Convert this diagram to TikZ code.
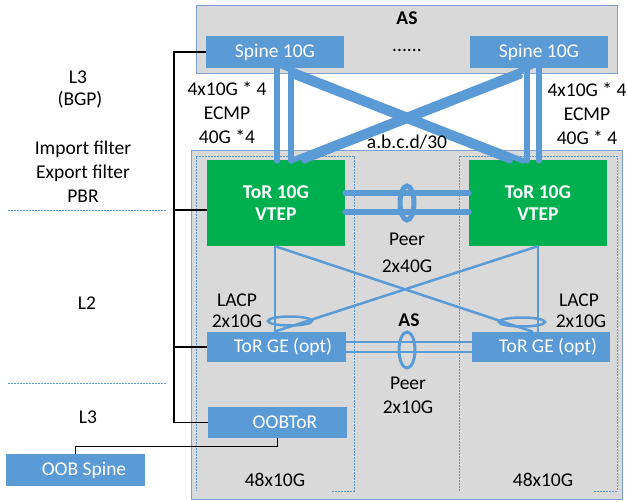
\documentclass[tikz,border=0pt]{standalone}
\usepackage{fontspec}
\setmainfont{Carlito}
\usetikzlibrary{calc}
\definecolor{lblue}{HTML}{5B9BD5}
\definecolor{tgreen}{HTML}{00B050}
\definecolor{gfill}{HTML}{D9D9D9}
\definecolor{gedge}{HTML}{7F9FCF}
\begin{document}
\begin{tikzpicture}[x=1pt,y=-1pt, font=\fontsize{19.5}{24}\selectfont,
 bluebox/.style={fill=lblue, text=white, inner sep=0pt, minimum width=138pt, minimum height=32pt},
 greenbox/.style={fill=tgreen, text=white, font=\fontsize{19.5}{22}\selectfont\bfseries, align=center, inner sep=0pt, minimum width=138pt, minimum height=86pt},
 grayarea/.style={fill=gfill, draw=gedge, line width=0.8pt},
 zone/.style={draw=lblue, dash pattern=on 2pt off 1pt, line width=0.8pt},
 divider/.style={draw=lblue, dash pattern=on 2pt off 1pt, line width=0.8pt},
 bracket/.style={draw=black, line width=1.3pt},
 fat/.style={draw=lblue, line width=5.5pt, line cap=round},
 thinlink/.style={draw=lblue, line width=2.5pt},
 lbl/.style={inner sep=0pt, align=center}]
\useasboundingbox (0,0) rectangle (627,502);
\fill[white] (0,0) rectangle (627,502);

% areas
\draw[grayarea] (196,5) rectangle (617,73);
\draw[grayarea] (191,150) rectangle (622,499);
\draw[zone] (332,491) -- (354,491) -- (354,156) -- (196,156) -- (196,491);
\draw[zone] (594,491) -- (617,491) -- (617,156) -- (459,156) -- (459,491);

% dividers
\draw[divider] (8,210) -- (167,210);
\draw[divider] (8,383) -- (167,383);

% nodes
\node[bluebox] (sp1) at (275,52) {Spine 10G};
\node[bluebox] (sp2) at (539,52) {Spine 10G};
\node[greenbox] (tor1) at (276,203) {ToR 10G\\VTEP};
\node[greenbox] (tor2) at (538,203) {ToR 10G\\VTEP};
\node[bluebox, minimum width=139pt, minimum height=30pt] (ge1) at (276.5,347) {\hspace*{13pt}ToR GE (opt)};
\node[bluebox, minimum height=30pt] (ge2) at (541,347) {\hspace*{14pt}ToR GE (opt)};
\node[bluebox, minimum width=139pt, minimum height=31pt] (oob) at (277.5,422.5) {\hspace*{15pt}OOBToR};
\node[bluebox, minimum width=139pt] (oobsp) at (75.5,470) {\hspace*{17pt}OOB Spine};

% black bracket
\coordinate (btop) at (174,52);
\coordinate (bmid) at (174,210);
\coordinate (bge) at (174,347);
\coordinate (bbot) at (174,422.5);
\draw[bracket] (sp1.west) -- (btop) -- (bbot) -- (oob.west);
\draw[bracket] (bmid) -- (bmid -| tor1.west);
\draw[bracket] (bge) -- (ge1.west);
\draw[bracket] (oob.south) -- ++(0,8) -| (oobsp.north);

% spine - ToR links
\draw[fat] ($(sp1.south)+(2,0)$) -- ($(tor1.north)+(1,1)$);
\draw[fat] ($(sp1.south)+(16,0)$) -- ($(tor1.north)+(15,1)$);
\draw[fat] ($(sp2.south)+(-12,0)$) -- ($(tor2.north)+(-11,1)$);
\draw[fat] (sp2.south) -- ($(tor2.north)+(1,1)$);
\draw[fat] ($(sp1.south)+(7,-2)$) -- ($(tor2.north)+(-15,1)$);
\draw[fat] ($(sp1.south)+(19,8)$) -- ($(tor2.north)+(-28,1)$);
\draw[fat] ($(sp2.south)+(-7,-2)$) -- ($(tor1.north)+(15,1)$);
\draw[fat] ($(sp2.south)+(-19,8)$) -- ($(tor1.north)+(28,1)$);

% peer 40G
\draw[fat] ($(tor1.east)+(0,-10)$) -- ($(tor2.west)+(0,-10)$);
\draw[fat] ($(tor1.east)+(0,9)$) -- ($(tor2.west)+(0,9)$);
\coordinate (pk40) at ($(tor1.east)!0.5!(tor2.west)$);
\draw[lblue, line width=5pt] (pk40) ellipse [x radius=7pt, y radius=17pt];

% ToR 10G - ToR GE
\draw[thinlink] ($(tor1.south)+(-1,0)$) -- ($(ge1.north)+(-1.5,0)$);
\draw[thinlink] (tor2.south) -- ($(ge2.north)+(-3,0)$);
\draw[thinlink] ($(tor1.south)+(-1,0)$) -- ($(ge2.north)+(-8,0)$);
\draw[thinlink] (tor2.south) -- ($(ge1.north)+(-2.5,0)$);
\draw[lblue, line width=2.5pt] (290,321) ellipse [x radius=22pt, y radius=4.5pt];
\draw[lblue, line width=2.5pt] (522,322) ellipse [x radius=23pt, y radius=4.5pt];

% peer 10G
\draw[thinlink] ($(ge1.east)+(0,-5)$) -- ($(ge2.west)+(0,-5)$);
\draw[thinlink] ($(ge1.east)+(0,5)$) -- ($(ge2.west)+(0,5)$);
\coordinate (pk10) at ($($(ge1.east)!0.5!(ge2.west)$)+(-2,3)$);
\draw[lblue, line width=3pt] (pk10) ellipse [x radius=8pt, y radius=18pt];

% labels
\node[lbl, font=\fontsize{19.5}{24}\selectfont\bfseries] (astop) at (407,18) {AS};
\node[lbl] (dots) at (407,50) {......};
\node[lbl] (lnk1) at (227,113) {4x10G * 4\\ECMP\\40G *4};
\node[lbl] (lnk2) at (587,114) {4x10G * 4\\ECMP\\40G * 4};
\node[lbl] (subnet) at (407,142) {a.b.c.d/30};
\node[lbl] (l3a) at (78,77) {L3};
\node[lbl] (bgp) at (80,100) {(BGP)};
\node[lbl] (filt) at (83,172) {Import filter\\Export filter\\PBR};
\node[lbl] (l2) at (87,303) {L2};
\node[lbl] (l3b) at (88,417) {L3};
\node[lbl] (peera) at (407,239) {Peer};
\node[lbl] (peerb) at (407,266) {2x40G};
\node[lbl] (lacp1) at (237,300) {LACP};
\node[lbl] (lacp1b) at (237,321) {2x10G};
\node[lbl] (lacp2) at (579,300) {LACP};
\node[lbl] (lacp2b) at (581,321) {2x10G};
\node[lbl, font=\fontsize{19.5}{24}\selectfont\bfseries] (asmid) at (409,320) {AS};
\node[lbl] (peerc) at (408,383) {Peer};
\node[lbl] (peerd) at (408,407) {2x10G};
\node[lbl] (cap1) at (275,480) {48x10G};
\node[lbl] (cap2) at (543,480) {48x10G};
\end{tikzpicture}
\end{document}
